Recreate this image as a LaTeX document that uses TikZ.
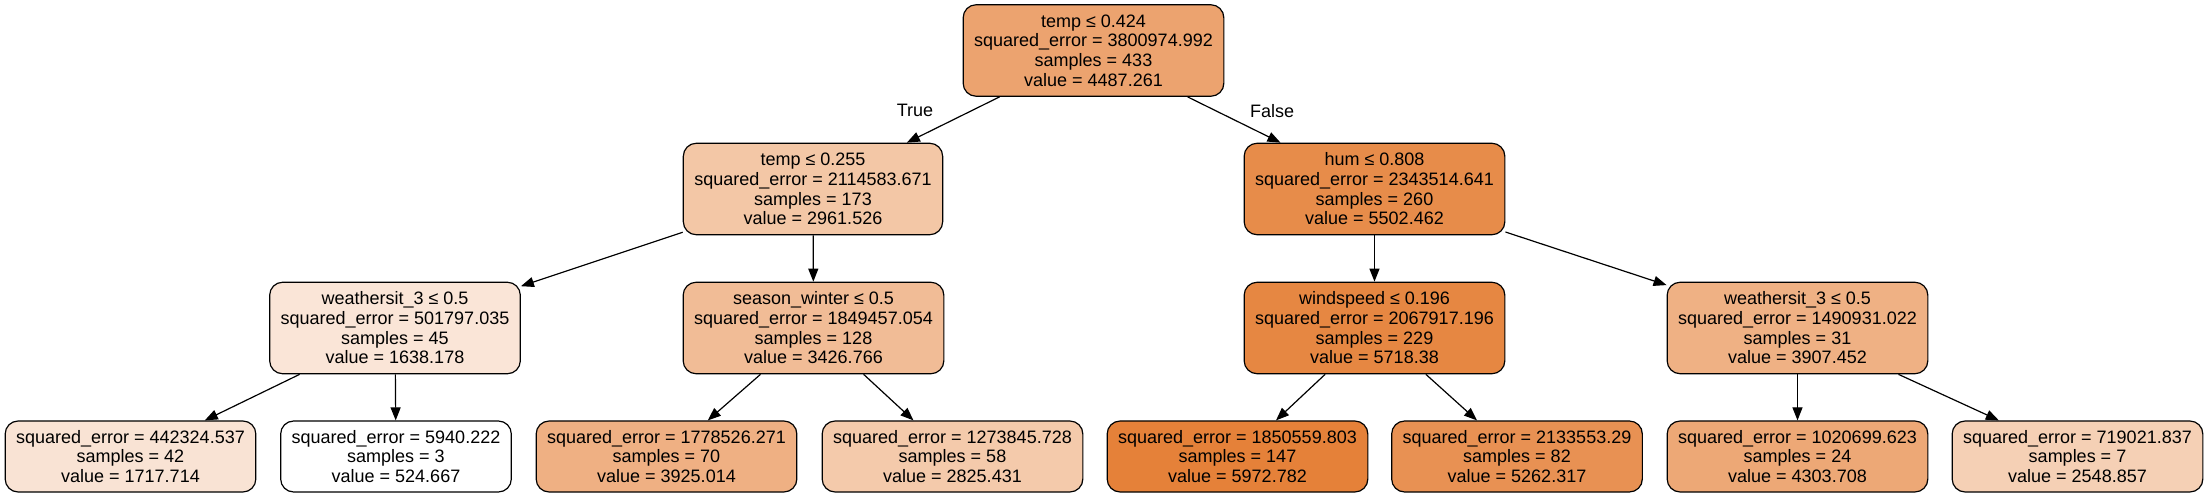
\documentclass[tikz,border=0pt]{standalone}
\usepackage{fontspec}
\setmainfont{Liberation Sans}
\usetikzlibrary{arrows.meta}
\definecolor{treeor}{RGB}{229,129,57}

\begin{document}
\begin{tikzpicture}[x=0.5pt,y=-0.5pt,font=\fontsize{9}{9.85}\selectfont]
  \useasboundingbox (0,0) rectangle (2208,497);
  % split nodes
  \begin{scope}[every node/.style={draw,rounded corners=6.5pt,align=center,line width=0.6pt,inner xsep=5.5pt,minimum height=45.75pt}]
    \node (n0) [fill=treeor!72.73!white] at (1093.5,50.5) {temp ≤ 0.424\\squared\_error = 3800974.992\\samples = 433\\value = 4487.261};
    \node (n1) [fill=treeor!44.73!white] at (813,189) {temp ≤ 0.255\\squared\_error = 2114583.671\\samples = 173\\value = 2961.526};
    \node (n8) [fill=treeor!91.37!white] at (1374.5,189) {hum ≤ 0.808\\squared\_error = 2343514.641\\samples = 260\\value = 5502.462};
    \node (n2) [fill=treeor!20.44!white] at (395,328) {weathersit\_3 ≤ 0.5\\squared\_error = 501797.035\\samples = 45\\value = 1638.178};
    \node (n5) [fill=treeor!53.27!white] at (813.5,328) {season\_winter ≤ 0.5\\squared\_error = 1849457.054\\samples = 128\\value = 3426.766};
    \node (n9) [fill=treeor!95.33!white] at (1374.5,328) {windspeed ≤ 0.196\\squared\_error = 2067917.196\\samples = 229\\value = 5718.38};
    \node (n12) [fill=treeor!62.09!white] at (1797.5,328) {weathersit\_3 ≤ 0.5\\squared\_error = 1490931.022\\samples = 31\\value = 3907.452};
  \end{scope}
  % leaves
  \begin{scope}[every node/.style={draw,rounded corners=6.5pt,align=center,line width=0.6pt,inner xsep=5.5pt,minimum height=35.5pt}]
    \node (n3) [fill=treeor!21.90!white] at (130.5,456.5) {squared\_error = 442324.537\\samples = 42\\value = 1717.714};
    \node (n4) [fill=white] at (396,456.5) {squared\_error = 5940.222\\samples = 3\\value = 524.667};
    \node (n6) [fill=treeor!62.41!white] at (666.5,456.5) {squared\_error = 1778526.271\\samples = 70\\value = 3925.014};
    \node (n7) [fill=treeor!42.23!white] at (952.5,456.5) {squared\_error = 1273845.728\\samples = 58\\value = 2825.431};
    \node (n10) [fill=treeor] at (1237.5,456.5) {squared\_error = 1850559.803\\samples = 147\\value = 5972.782};
    \node (n11) [fill=treeor!86.96!white] at (1517,456.5) {squared\_error = 2133553.29\\samples = 82\\value = 5262.317};
    \node (n13) [fill=treeor!69.36!white] at (1797.5,456.5) {squared\_error = 1020699.623\\samples = 24\\value = 4303.708};
    \node (n14) [fill=treeor!37.15!white] at (2077.5,456.5) {squared\_error = 719021.837\\samples = 7\\value = 2548.857};
  \end{scope}
  \node (ltrue) at (915,110) {True};
  \node (lfalse) at (1272,111) {False};
  \begin{scope}[line width=0.6pt,-{Triangle[length=6.5pt,width=5pt]}]
    \path (n0) edge (n1);
    \path (n0) edge (n8);
    \path (n1) edge (n2);
    \path (n1) edge (n5);
    \path (n2) edge (n3);
    \path (n2) edge (n4);
    \path (n5) edge (n6);
    \path (n5) edge (n7);
    \path (n8) edge (n9);
    \path (n8) edge (n12);
    \path (n9) edge (n10);
    \path (n9) edge (n11);
    \path (n12) edge (n13);
    \path (n12) edge (n14);
  \end{scope}
\end{tikzpicture}
\end{document}
